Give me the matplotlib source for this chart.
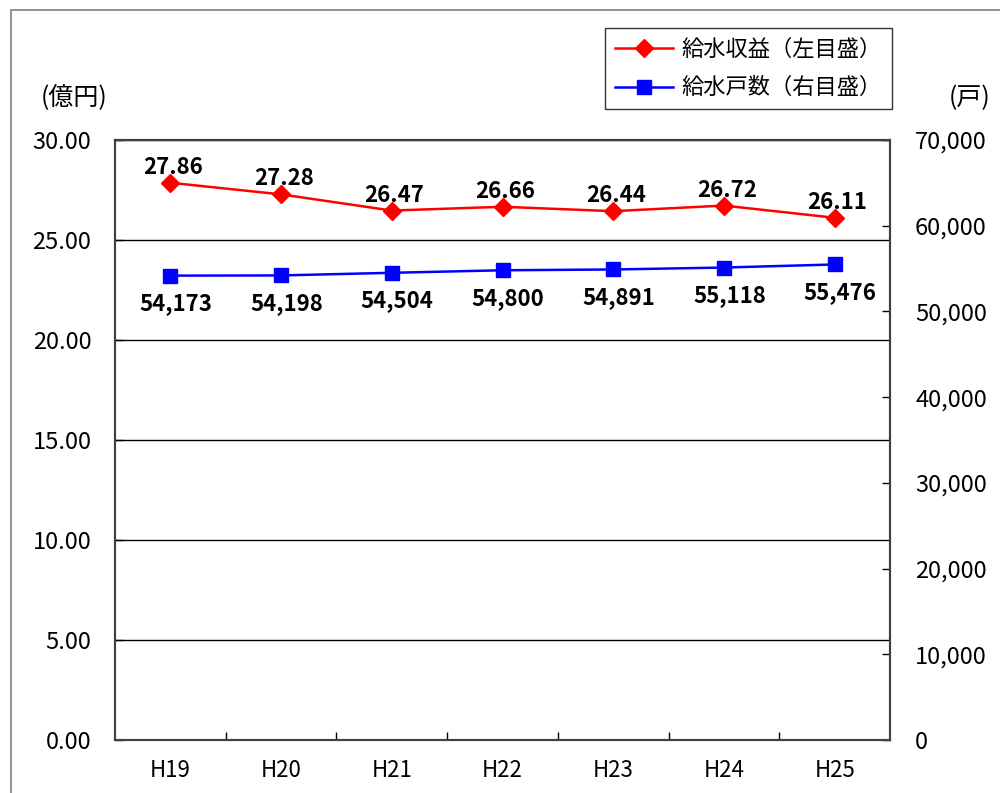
import matplotlib.pyplot as plt
from matplotlib.patches import Rectangle
from matplotlib.ticker import FixedLocator, FuncFormatter

plt.rcParams['font.family'] = ['Noto Sans CJK JP', 'DejaVu Sans']

# data
years = ['H19', 'H20', 'H21', 'H22', 'H23', 'H24', 'H25']
revenue = [27.86, 27.28, 26.47, 26.66, 26.44, 26.72, 26.11]   # 億円 (left)
households = [54173, 54198, 54504, 54800, 54891, 55118, 55476]  # 戸 (right)

fig = plt.figure(figsize=(10, 7.93), dpi=100)
ax = fig.add_axes([0.115, 0.0668, 0.775, 0.7567])
ax2 = ax.twinx()

x = list(range(len(years)))

# outer frame of the chart area
fig.patches.append(Rectangle((0.011, -0.2), 1.2, 0.2 + 0.987, transform=fig.transFigure,
                             fill=False, edgecolor='#808080', linewidth=1.2))

ax.set_xlim(-0.5, len(years) - 0.5)
ax.set_ylim(0, 30)
ax2.set_ylim(0, 70000)

ax.set_yticks([0, 5, 10, 15, 20, 25, 30])
ax.yaxis.set_major_formatter(FuncFormatter(lambda v, p: '%.2f' % v))
ax2.set_yticks(range(0, 70001, 10000))
ax2.yaxis.set_major_formatter(FuncFormatter(lambda v, p: '{:,}'.format(int(v))))

ax.set_xticks(x)
ax.set_xticklabels(years)
ax.xaxis.set_minor_locator(FixedLocator([i + 0.5 for i in x[:-1]]))
ax.tick_params(axis='x', which='major', length=0, labelsize=16, pad=14)
ax.tick_params(axis='x', which='minor', direction='in', length=6, width=1)
ax.tick_params(axis='y', direction='in', length=6, width=1, labelsize=17, pad=17)
ax2.tick_params(axis='y', direction='in', length=6, width=1, labelsize=17, pad=18)

ax.grid(axis='y', color='black', linewidth=1)
ax.set_axisbelow(True)
for a in (ax, ax2):
    for s in a.spines.values():
        s.set_color('#404040')
        s.set_linewidth(1.5)

l1, = ax.plot(x, revenue, color='#ff0000', linewidth=1.8, marker='D', markersize=9,
              label='給水収益（左目盛）')
l2, = ax2.plot(x, households, color='#0000ff', linewidth=1.8, marker='s', markersize=10,
               label='給水戸数（右目盛）')

for xi, v in zip(x, revenue):
    ax.annotate('%.2f' % v, (xi, v), xytext=(2, 6.5), textcoords='offset points',
                ha='center', va='baseline', fontsize=16, fontweight='bold')
for xi, v in zip(x, households):
    ax2.annotate('{:,}'.format(v), (xi, v), xytext=(4, -25), textcoords='offset points',
                 ha='center', va='baseline', fontsize=16, fontweight='bold')

fig.text(0.074, 0.876, '(億円)', ha='center', va='center', fontsize=18)
fig.text(0.970, 0.876, '(戸)', ha='center', va='center', fontsize=18)

leg = ax2.legend(handles=[l1, l2], loc='upper right', bbox_to_anchor=(0.892, 0.965),
                 bbox_transform=fig.transFigure, borderaxespad=0, fontsize=16,
                 frameon=True, fancybox=False, edgecolor='black', handlelength=2.6,
                 handletextpad=0.4, borderpad=0.45, labelspacing=0.7)
leg.get_frame().set_linewidth(1)

fig.savefig('out.png', dpi=100)
